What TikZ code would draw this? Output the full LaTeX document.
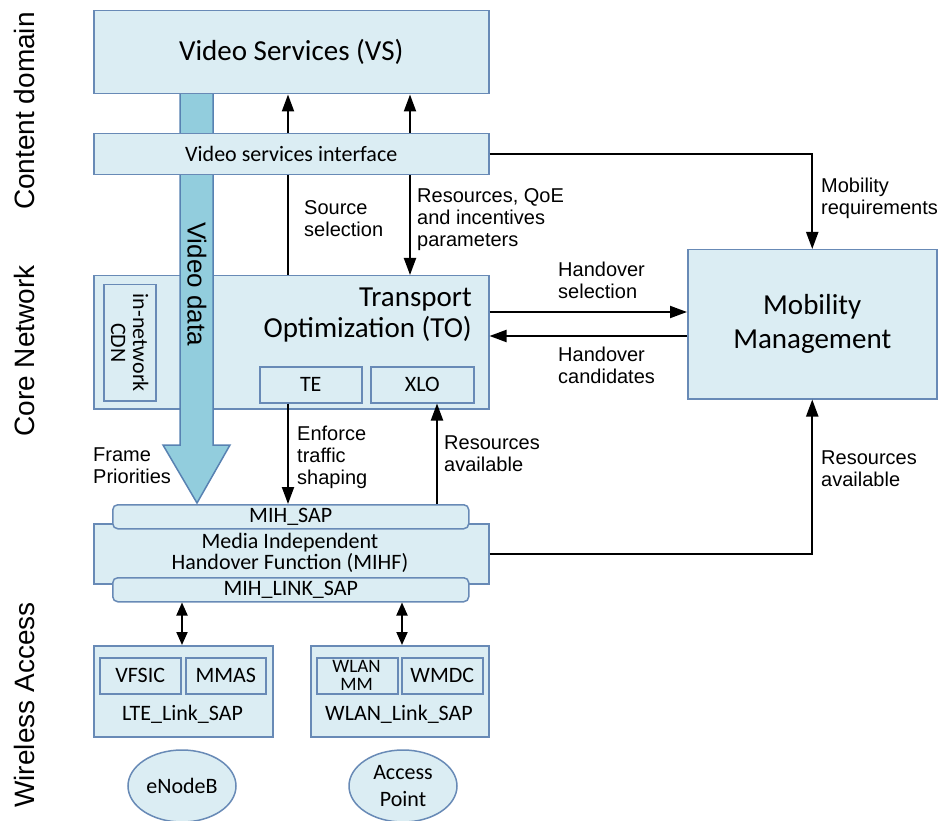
\documentclass[tikz,border=0pt]{standalone}
\usepackage{fontspec}
\setmainfont{Carlito}
\newfontfamily\arialf{Liberation Sans}
\usetikzlibrary{arrows.meta,shapes.geometric,calc}

\definecolor{boxfill}{RGB}{219,237,243}
\definecolor{boxline}{RGB}{104,138,182}
\definecolor{barfill}{RGB}{146,205,221}
\definecolor{barline}{RGB}{88,130,178}

\begin{document}
\begin{tikzpicture}[x=1pt,y=-1pt,
  box/.style={draw=boxline,fill=boxfill,line width=1.5pt,inner sep=0pt,anchor=north west},
  rbox/.style={box,rounded corners=5pt},
  lbl/.style={font=\arialf\fontsize{20}{22}\selectfont,align=left,anchor=west,inner sep=0pt},
  arr/.style={line width=2pt,-{Triangle[length=17pt,width=12pt]}},
  dbl/.style={line width=2pt,{Triangle[length=13pt,width=11pt]}-{Triangle[length=13pt,width=11pt]}},
  ln/.style={line width=2pt},
  big/.style={font=\fontsize{29}{31}\selectfont},
  mid/.style={font=\fontsize{22}{22}\selectfont},
  side/.style={font=\arialf\fontsize{28}{30}\selectfont,rotate=90,inner sep=0pt},
  oval/.style={draw=boxline,fill=boxfill,line width=1.5pt,ellipse,inner sep=0pt,
               minimum width=108pt,minimum height=72pt,align=center,
               font=\fontsize{22}{27}\selectfont}
]
\useasboundingbox (0,0) rectangle (946,821);

% layer labels
\node[side] (lcontent) at (24,111) {Content domain};
\node[side] (lcore) at (24,351) {Core Network};
\node[side] (lwireless) at (24,705) {Wireless Access};

% transport optimization block
\node[box,minimum width=395pt,minimum height=133pt] (to) at (93,275) {};
\node[box,minimum width=52pt,minimum height=116pt] (cdn) at (103,284) {};
\node[rotate=-90,align=center,inner sep=0pt,font=\fontsize{22}{22}\selectfont]
  (cdntxt) at (cdn.center) {in-network\\CDN};
\node[big,align=right,anchor=east,inner sep=0pt] (totitle) at (472,315)
  {Transport\\Optimization (TO)};
\node[box,mid,minimum width=102pt,minimum height=36pt] (te) at (259,366) {};
\node[mid] (tetxt) at (te.center) {TE};
\node[box,mid,minimum width=103pt,minimum height=36pt] (xlo) at (370,366) {};
\node[mid] (xlotxt) at (xlo.center) {XLO};

% video data flow
\draw[draw=barline,fill=barfill,line width=1.5pt]
  (180,93) -- (213,93) -- (213,445) -- (230,445) -- (197,503)
  -- (163,445) -- (180,445) -- cycle;
\node[rotate=-90,inner sep=0pt,font=\arialf\fontsize{26}{26}\selectfont]
  (vdata) at (197,284) {Video data};

% content domain
\node[box,big,minimum width=395pt,minimum height=83pt] (vs) at (93,10) {};
\node[big] (vstxt) at (vs.center) {Video Services (VS)};
\node[box,mid,minimum width=395pt,minimum height=41pt] (vsi) at (93,133) {};
\node[mid] (vsitxt) at (vsi.center) {Video services interface};

% mobility management
\node[box,minimum width=249pt,minimum height=149pt] (mm) at (687,249) {};
\node[align=center,font=\fontsize{29}{34}\selectfont] (mmtxt) at (mm.center)
  {Mobility\\Management};

% MIHF
\node[box,minimum width=395pt,minimum height=60pt] (mihf) at (93,523) {};
\node[align=center,font=\fontsize{22}{21}\selectfont] (mihftxt) at (290,553)
  {Media Independent\\Handover Function (MIHF)};
\node[rbox,minimum width=356pt,minimum height=24pt] (mihsap) at (112,504) {};
\node[mid] (mihsaptxt) at (mihsap.center) {MIH\_SAP};
\node[rbox,minimum width=356pt,minimum height=24pt] (mihlink) at (112,577) {};
\node[mid] (mihlinktxt) at (mihlink.center) {MIH\_LINK\_SAP};

% link SAPs
\node[box,minimum width=179pt,minimum height=91pt] (lte) at (93,645) {};
\node[box,minimum width=81pt,minimum height=36pt] (vfsic) at (99,657) {};
\node[mid] (vfsictxt) at (vfsic.center) {VFSIC};
\node[box,minimum width=80pt,minimum height=36pt] (mmas) at (185,657) {};
\node[mid] (mmastxt) at (mmas.center) {MMAS};
\node[mid] (ltetxt) at (182.5,714) {LTE\_Link\_SAP};

\node[box,minimum width=178pt,minimum height=91pt] (wlan) at (310,645) {};
\node[box,minimum width=81pt,minimum height=36pt] (wlanmm) at (316,657) {};
\node[align=center,inner sep=0pt,font=\fontsize{19}{18}\selectfont] (wlanmmtxt)
  at (356.5,675.5) {WLAN\\MM};
\node[box,minimum width=81pt,minimum height=36pt] (wmdc) at (401,657) {};
\node[mid] (wmdctxt) at (wmdc.center) {WMDC};
\node[mid] (wlantxt) at (399,714) {WLAN\_Link\_SAP};

% access nodes
\node[oval] (enb) at (182,786) {eNodeB};
\node[oval] (ap) at (403,786) {Access\\Point};

% connector columns and rows
\coordinate (xs) at (288,0);
\coordinate (xr) at (410,0);
\coordinate (xx) at (437,0);
\coordinate (xl) at (182,0);
\coordinate (xw) at (402,0);
\coordinate (yhs) at (0,312);
\coordinate (yhc) at (0,336);

% connectors
\draw[arr] (vsi.north -| xs) -- (vs.south -| xs);
\draw[arr] (vsi.north -| xr) -- (vs.south -| xr);
\draw[ln] (to.north -| xs) -- (vsi.south -| xs);
\draw[arr] (vsi.south -| xr) -- (to.north -| xr);
\draw[arr] (vsi.east) -| (mm.north);
\draw[arr] (to.east |- yhs) -- (mm.west |- yhs);
\draw[arr] (mm.west |- yhc) -- (to.east |- yhc);
\draw[arr] (te.south -| xs) -- (mihsap.north -| xs);
\draw[arr] (mihsap.north -| xx) -- (xlo.south -| xx);
\draw[arr] (mihf.east) -| (mm.south);
\draw[dbl] (mihlink.south -| xl) -- (lte.north -| xl);
\draw[dbl] (mihlink.south -| xw) -- (wlan.north -| xw);

% connector labels
\node[lbl] (srcsel) at (304,218.5) {Source\\selection};
\node[lbl] (resqoe) at (417,219.5) {Resources, QoE\\and incentives\\parameters};
\node[lbl] (mobreq) at (821,198) {Mobility\\requirements};
\node[lbl] (hsel) at (558,280) {Handover\\selection};
\node[lbl] (hcand) at (558,365.5) {Handover\\candidates};
\node[lbl] (resavmm) at (821,469) {Resources\\available};
\node[lbl] (enforce) at (297,457) {Enforce\\traffic\\shaping};
\node[lbl] (resavto) at (444,454) {Resources\\available};
\node[lbl] (frpri) at (93,466) {Frame\\Priorities};
\end{tikzpicture}
\end{document}
